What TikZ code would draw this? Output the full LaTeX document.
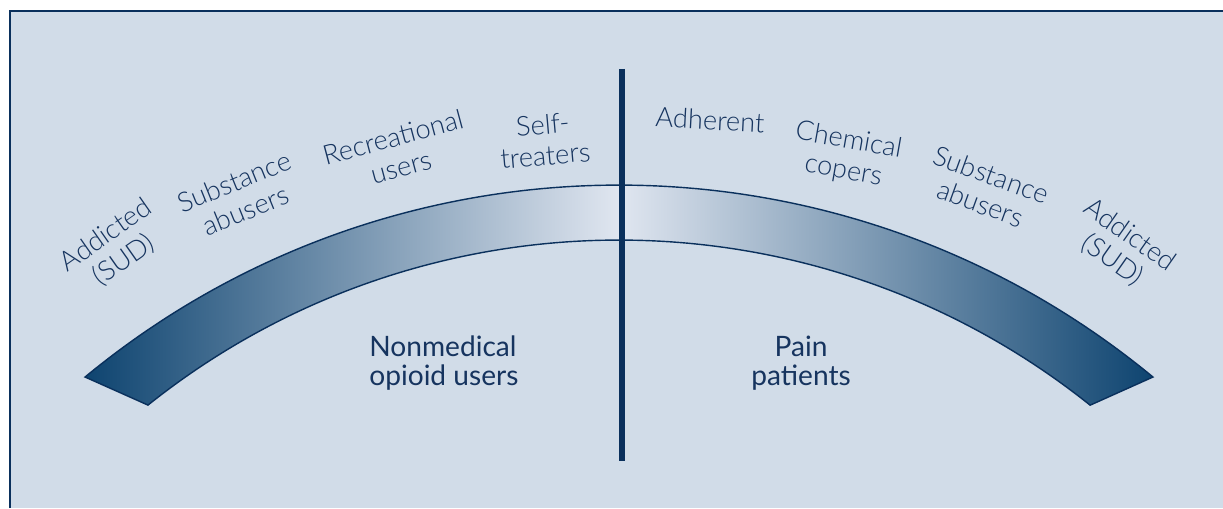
\documentclass[tikz,border=0pt]{standalone}
\usepackage{fontspec}
\setmainfont{Lato}
\newfontfamily\lightfont{Lato Light}
\usetikzlibrary{calc}
\definecolor{panel}{RGB}{209,220,232}
\definecolor{navy}{RGB}{10,48,92}
\definecolor{banddark}{RGB}{14,68,112}
\definecolor{bandlight}{RGB}{224,230,240}
\definecolor{textblue}{RGB}{22,52,95}

\begin{document}
\begin{tikzpicture}[x=0.02cm,y=0.02cm]
\tikzstyle{group} = [text=textblue, align=center, inner sep=0pt,
font=\lightfont\fontsize{15.5}{17.5}\selectfont]
\tikzstyle{side} = [text=textblue, inner sep=0pt, font=\fontsize{16}{16.5}\selectfont]
\tikzstyle{band} = [draw=navy, line width=0.8pt, left color=banddark,
right color=banddark, middle color=bandlight]
\useasboundingbox (0,0) rectangle (1223,508);
% panel
\fill[panel] (10,0) rectangle (1223,497);
\draw[navy, line width=1.2pt] (10,0) -- (10,497) -- (1223,497);
% band
\coordinate (outc) at (619,-515.6);
\coordinate (innc) at (619,-486.7);
\path[band] ($(outc)+(129.55:838.6)$) arc[start angle=129.55, end angle=50.45, radius=838.6]
  -- ($(innc)+(51.37:754.7)$) arc[start angle=51.37, end angle=128.62, radius=754.7] -- cycle;
% divider
\coordinate (divtop) at (622,439);
\coordinate (divbot) at (622,47);
\draw[navy, line width=3.4pt] (divtop) -- (divbot);
% left groups
\node[group, rotate=35] (addleft) at (115,260) {Addicted\\(SUD)};
\node[group, rotate=22] (subleft) at (240,312) {Substance\\abusers};
\node[group, rotate=15] (recleft) at (397,356) {Recreational\\users};
\node[group, rotate=5] (selfleft) at (544,368) {Self-\\treaters};
% right groups
\node[group, rotate=-3] (adhright) at (710,388) {Adherent};
\node[group, rotate=-10] (chemright) at (846,352) {Chemical\\copers};
\node[group, rotate=-20] (subright) at (986,319) {Substance\\abusers};
\node[group, rotate=-35] (addright) at (1121,260) {Addicted\\(SUD)};
% sides
\node[side, anchor=west, align=left] (nonmed) at (369,145) {Nonmedical\\opioid users};
\node[side, align=center] (pain) at (801,145) {Pain\\patients};
\end{tikzpicture}
\end{document}
